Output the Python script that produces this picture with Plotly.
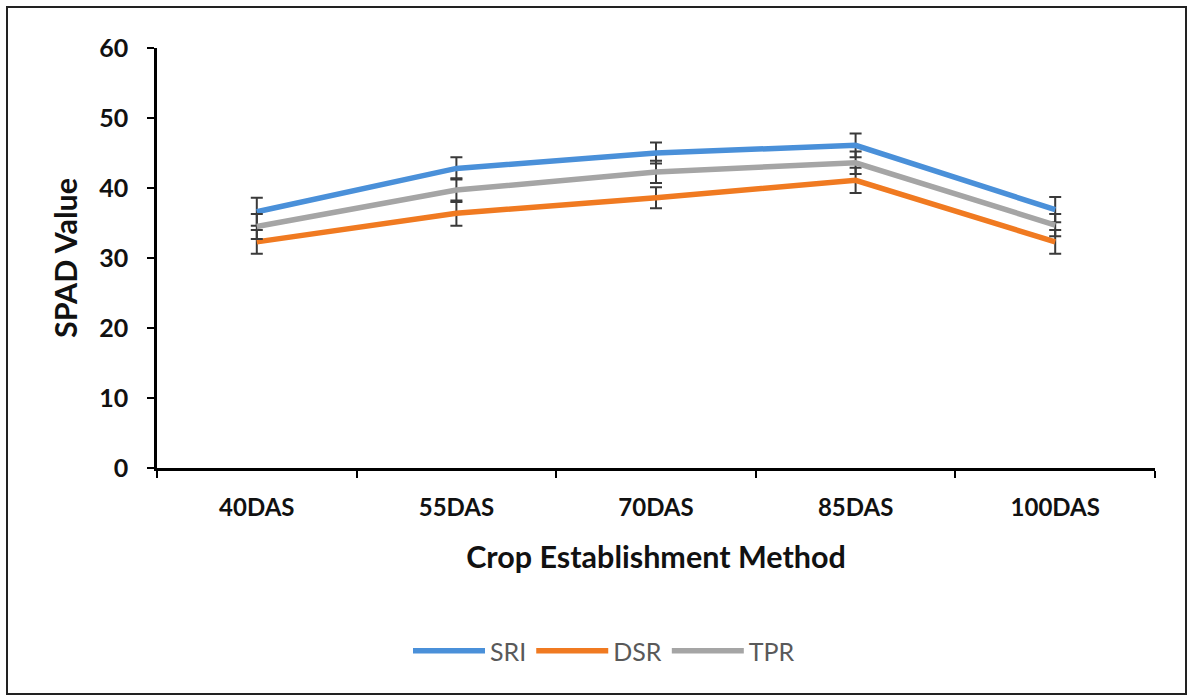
import plotly.graph_objects as go

categories = ["40DAS", "55DAS", "70DAS", "85DAS", "100DAS"]
sri = [36.6, 42.8, 45.0, 46.1, 36.9]
sri_err = [2.0, 1.6, 1.5, 1.7, 1.8]
dsr = [32.3, 36.4, 38.6, 41.1, 32.3]
dsr_err = [1.7, 1.8, 1.5, 1.8, 1.7]
tpr = [34.5, 39.7, 42.3, 43.6, 34.7]
tpr_err = [1.8, 1.7, 1.6, 1.6, 1.6]

series = [
    ("SRI", sri, sri_err, "#4a90d9"),
    ("DSR", dsr, dsr_err, "#f07a21"),
    ("TPR", tpr, tpr_err, "#a5a5a5"),
]

fig = go.Figure()
for name, vals, errs, col in series:
    fig.add_trace(go.Scatter(
        x=categories, y=vals, name=name, mode="lines",
        line=dict(color=col, width=5.5),
        error_y=dict(type="data", array=errs, visible=True,
                     color="#3a3a3a", thickness=2, width=6),
    ))

W, H = 1189, 698
L, R, T, B = 157, 34, 48, 230
pw, ph = W - L - R, H - T - B

def px(p):
    return (p - L) / pw

def py(q):
    return (H - B - q) / ph

fig.add_shape(type="rect", xref="paper", yref="paper",
              x0=px(7), x1=px(1186), y0=py(694), y1=py(7),
              line=dict(color="#222222", width=2), fillcolor="rgba(0,0,0,0)")

font_main = "Lato, 'Open Sans', sans-serif"
fig.update_layout(
    width=W, height=H,
    margin=dict(l=L, r=R, t=T, b=B),
    paper_bgcolor="white", plot_bgcolor="white",
    font=dict(family=font_main, color="#111111"),
    xaxis=dict(
        type="category", range=[-0.5, 4.5],
        showline=True, linecolor="black", linewidth=2.5,
        ticks="outside", tickson="boundaries", ticklen=7, tickwidth=2, tickcolor="black",
        tickfont=dict(size=24, family=font_main, weight="bold", color="#111111"),
        ticklabelstandoff=16,
        showgrid=False, zeroline=False,
        title=dict(text="Crop Establishment Method", standoff=28,
                   font=dict(size=30.5, family=font_main, weight="bold", color="#111111")),
    ),
    yaxis=dict(
        range=[0, 60], dtick=10,
        showline=True, linecolor="black", linewidth=2.5,
        ticks="outside", ticklen=7, tickwidth=2, tickcolor="black",
        tickfont=dict(size=25, family=font_main, weight="bold", color="#111111"),
        ticklabelstandoff=14,
        showgrid=False, zeroline=False,
        title=dict(text="SPAD Value", standoff=13,
                   font=dict(size=30.5, family=font_main, weight="bold", color="#111111")),
    ),
    legend=dict(
        orientation="h", x=px(604), xanchor="center", y=py(651), yanchor="middle",
        font=dict(size=25, family=font_main, color="#595959"),
        itemwidth=72, bgcolor="rgba(0,0,0,0)",
    ),
    showlegend=True,
)

fig.write_html("out.html")
